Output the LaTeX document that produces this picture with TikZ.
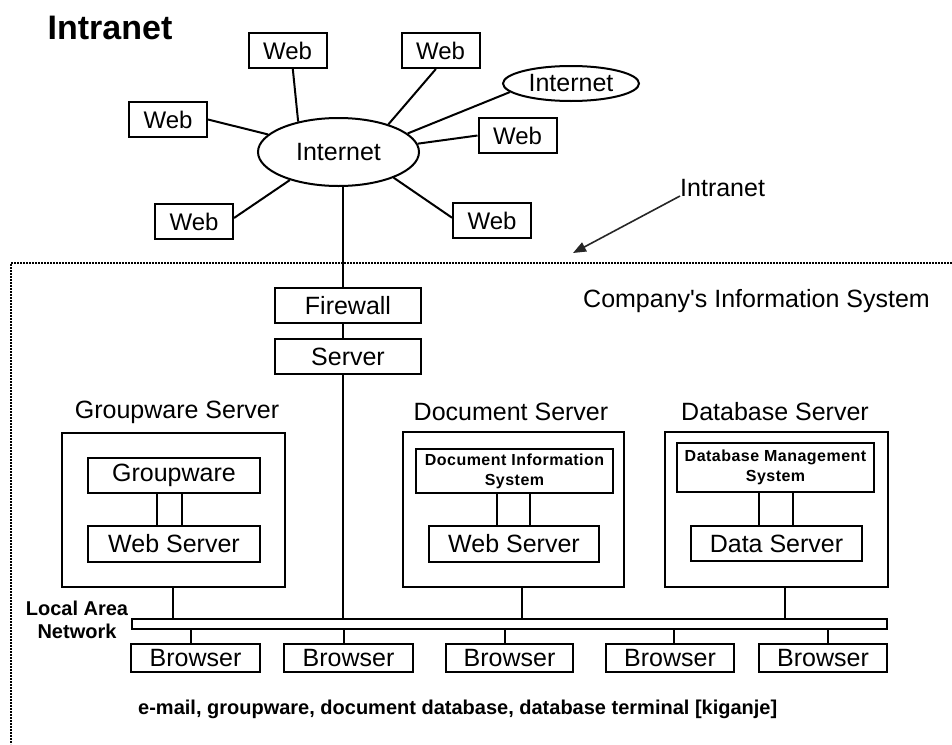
\documentclass[tikz,border=0pt]{standalone}
\usepackage{fontspec}
\setmainfont{Liberation Sans}
\usetikzlibrary{arrows.meta,shapes.geometric}
\begin{document}
\begin{tikzpicture}[x=1pt,y=-1pt,
  bx/.style={draw, line width=2pt, inner sep=0pt, font=\fontsize{25}{30}\selectfont},
  webbox/.style={bx, minimum width=78pt, minimum height=35pt, font=\fontsize{24}{28}\selectfont},
  cloud/.style={draw, ellipse, line width=2pt, inner sep=0pt, font=\fontsize{25}{30}\selectfont},
  ln/.style={line width=2pt},
  lbl/.style={inner sep=0pt, font=\fontsize{25}{30}\selectfont},
  smallbox/.style={bx, align=center, font=\bfseries\fontsize{16}{20}\selectfont\addfontfeatures{LetterSpace=3}},
  outer/.style={draw, line width=2pt, inner sep=0pt},
  brw/.style={bx, minimum width=128pt, minimum height=28pt},
]
\fill[white] (0,0) rectangle (952,744);
\useasboundingbox (0,0) rectangle (952,744);

% title
\node[inner sep=0pt, font=\bfseries\fontsize{34}{40}\selectfont] (title) at (110,28) {Intranet};

% internet part
\node[cloud, minimum width=161pt, minimum height=68pt] (inet) at (338.5,152) {Internet};
\node[cloud, minimum width=136pt, minimum height=35pt] (inet2) at (571,83.5) {Internet};
\node[webbox] (web1) at (287.5,50.5) {Web};
\node[webbox] (web2) at (440.5,50.5) {Web};
\node[webbox] (web3) at (168,119.5) {Web};
\node[webbox] (web4) at (194,221.5) {Web};
\node[webbox] (web5) at (517.5,135.5) {Web};
\node[webbox] (web6) at (492,220.5) {Web};

\draw[ln] (web1.-74) -- (inet.143);
\draw[ln] (web2.-104) -- (inet.29);
\draw[ln] (inet2.188) -- (inet.15.5);
\draw[ln] (web5.west) -- (inet.6);
\draw[ln] (web6.176) -- (inet.-25);
\draw[ln] (web3.east) -- (inet.166.6);
\draw[ln] (web4.5) -- (inet.210);

% intranet frame
\draw[line width=2pt, dash pattern=on 2pt off 1pt] (952,263) -- (11,263) -- (11,744);
\node[lbl, anchor=base west] (intr) at (680,196) {Intranet};
\coordinate (tip) at (573,253);
\draw[line width=1.6pt, black!85, -{Triangle[length=13pt,width=10pt]}] (intr.base west) -- (tip);
\node[lbl, anchor=base west] (cis) at (583,307) {Company\textquotesingle s Information System};

% firewall and server
\node[bx, minimum width=146pt, minimum height=35pt] (fw) at (348,305.5) {Firewall};
\node[bx, minimum width=146pt, minimum height=35pt] (srv) at (348,356.5) {Server};

% server groups
\node[lbl, anchor=base] (gwl) at (177,418) {Groupware Server};
\node[lbl, anchor=base] (dsl) at (511,420) {Document Server};
\node[lbl, anchor=base] (dbl) at (775,420) {Database Server};

\node[outer, minimum width=223pt, minimum height=154pt] (gws) at (173.5,510) {};
\node[outer, minimum width=221pt, minimum height=155pt] (dcs) at (513.5,509.5) {};
\node[outer, minimum width=223pt, minimum height=155pt] (dbs) at (776.5,509.5) {};

\node[bx, minimum width=172pt, minimum height=35pt] (gw) at (174,475.5) {Groupware};
\node[bx, minimum width=172pt, minimum height=36pt] (gwweb) at (174,544) {Web Server};
\node[smallbox, minimum width=197pt, minimum height=44pt] (dis) at (514.5,471) {Document Information\\System};
\node[bx, minimum width=170pt, minimum height=36pt] (dweb) at (514,544) {Web Server};
\node[smallbox, minimum width=197pt, minimum height=49pt] (dbms) at (775.5,467.5) {Database Management\\System};
\node[bx, minimum width=171pt, minimum height=35pt] (dsrv) at (776.5,543.5) {Data Server};

\coordinate (g1) at (157,0); \coordinate (g2) at (182,0);
\coordinate (d1) at (497,0); \coordinate (d2) at (530,0);
\coordinate (e1) at (759,0); \coordinate (e2) at (793,0);
\draw[ln] (gw.south -| g1) -- (gwweb.north -| g1);
\draw[ln] (gw.south -| g2) -- (gwweb.north -| g2);
\draw[ln] (dis.south -| d1) -- (dweb.north -| d1);
\draw[ln] (dis.south -| d2) -- (dweb.north -| d2);
\draw[ln] (dbms.south -| e1) -- (dsrv.north -| e1);
\draw[ln] (dbms.south -| e2) -- (dsrv.north -| e2);

% LAN
\node[outer, minimum width=755pt, minimum height=9.5pt] (lan) at (509.5,624) {};
\node[align=center, inner sep=0pt, font=\bfseries\fontsize{20}{23}\selectfont] (lanl) at (77,620) {Local Area\\Network};

% trunk
\coordinate (tx) at (343,0);
\draw[ln] (inet.south -| tx) -- (fw.north -| tx);
\draw[ln] (fw.south -| tx) -- (srv.north -| tx);
\draw[ln] (srv.south -| tx) -- (lan.north -| tx);

\coordinate (v1) at (173,0); \coordinate (v2) at (522,0); \coordinate (v3) at (785,0);
\draw[ln] (gws.south -| v1) -- (lan.north -| v1);
\draw[ln] (dcs.south -| v2) -- (lan.north -| v2);
\draw[ln] (dbs.south -| v3) -- (lan.north -| v3);

% browsers
\node[brw, minimum width=129pt] (b1) at (195.5,658) {Browser};
\node[brw, minimum width=129pt] (b2) at (348.5,658) {Browser};
\node[brw, minimum width=127pt] (b3) at (509.5,658) {Browser};
\node[brw] (b4) at (670,658) {Browser};
\node[brw] (b5) at (823,658) {Browser};
\coordinate (w1) at (191,0); \coordinate (w2) at (344,0); \coordinate (w3) at (505,0);
\coordinate (w4) at (674,0); \coordinate (w5) at (828,0);
\draw[ln] (lan.south -| w1) -- (b1.north -| w1);
\draw[ln] (lan.south -| w2) -- (b2.north -| w2);
\draw[ln] (lan.south -| w3) -- (b3.north -| w3);
\draw[ln] (lan.south -| w4) -- (b4.north -| w4);
\draw[ln] (lan.south -| w5) -- (b5.north -| w5);

\node[inner sep=0pt, anchor=base west, font=\bfseries\fontsize{20}{24}\selectfont] (foot) at (138,714) {e-mail, groupware, document database, database terminal [kiganje]};
\end{tikzpicture}
\end{document}
